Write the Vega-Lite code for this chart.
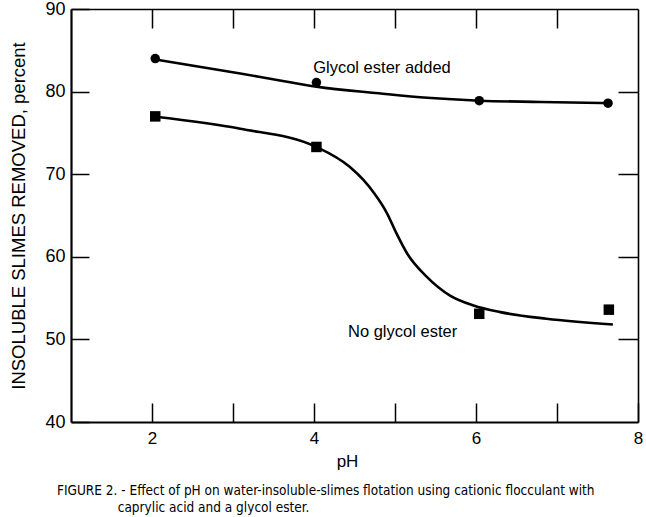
{
  "$schema": "https://vega.github.io/schema/vega-lite/v6.json",
  "autosize": "none",
  "width": 567,
  "height": 413,
  "padding": {"left": 71, "top": 9, "right": 8, "bottom": 95},
  "background": "white",
  "config": {
    "view": {"stroke": null},
    "axis": {"grid": false, "domainColor": "black", "tickColor": "black", "labelColor": "black", "titleColor": "black", "labelFont": "Liberation Sans", "titleFont": "Liberation Sans", "titleFontWeight": "normal"},
    "text": {"font": "Liberation Sans"}
  },
  "title": {
    "text": ["FIGURE 2. - Effect of pH on water-insoluble-slimes flotation using cationic flocculant with", "\u200b\u2003\u2003\u2003\u2003\u2003caprylic acid and a glycol ester."],
    "orient": "bottom",
    "anchor": "start",
    "frame": "group",
    "dx": -14,
    "offset": 15,
    "font": "DejaVu Sans Condensed",
    "fontSize": 13.5,
    "fontWeight": "normal",
    "color": "black",
    "lineHeight": 17
  },
  "datasets": {
    "curves": [
      {"series": "glycol", "pH": 2.04, "pct": 83.9},
      {"series": "glycol", "pH": 3.09, "pct": 82.2},
      {"series": "glycol", "pH": 3.58, "pct": 81.35},
      {"series": "glycol", "pH": 4.03, "pct": 80.6},
      {"series": "glycol", "pH": 4.8, "pct": 79.8},
      {"series": "glycol", "pH": 5.4, "pct": 79.25},
      {"series": "glycol", "pH": 6.05, "pct": 78.9},
      {"series": "glycol", "pH": 6.8, "pct": 78.75},
      {"series": "glycol", "pH": 7.64, "pct": 78.6},
      {"series": "none", "pH": 2.04, "pct": 76.95},
      {"series": "none", "pH": 3.09, "pct": 75.5},
      {"series": "none", "pH": 4.03, "pct": 73.3},
      {"series": "none", "pH": 4.44, "pct": 70.9},
      {"series": "none", "pH": 4.61, "pct": 69.3},
      {"series": "none", "pH": 4.75, "pct": 67.6},
      {"series": "none", "pH": 4.9, "pct": 65.3},
      {"series": "none", "pH": 5.02, "pct": 62.8},
      {"series": "none", "pH": 5.15, "pct": 60.4},
      {"series": "none", "pH": 5.39, "pct": 57.6},
      {"series": "none", "pH": 5.68, "pct": 55.3},
      {"series": "none", "pH": 5.97, "pct": 54.1},
      {"series": "none", "pH": 6.3, "pct": 53.3},
      {"series": "none", "pH": 6.87, "pct": 52.5},
      {"series": "none", "pH": 7.69, "pct": 51.8}
    ],
    "points": [
      {"series": "glycol", "pH": 2.04, "pct": 84.0},
      {"series": "glycol", "pH": 4.03, "pct": 81.1},
      {"series": "glycol", "pH": 6.04, "pct": 78.9},
      {"series": "glycol", "pH": 7.63, "pct": 78.6},
      {"series": "none", "pH": 2.04, "pct": 77.0},
      {"series": "none", "pH": 4.03, "pct": 73.3},
      {"series": "none", "pH": 6.04, "pct": 53.1},
      {"series": "none", "pH": 7.64, "pct": 53.6}
    ],
    "labels": [
      {"label": "Glycol ester added", "pH": 3.99, "pct": 82.25},
      {"label": "No glycol ester", "pH": 4.42, "pct": 50.3}
    ]
  },
  "resolve": {"axis": {"x": "independent", "y": "independent"}},
  "layer": [
    {
      "data": {"name": "curves"},
      "mark": {"type": "line", "interpolate": "monotone", "color": "black", "strokeWidth": 2.6},
      "encoding": {
        "x": {"field": "pH", "type": "quantitative", "scale": {"domain": [1, 8], "nice": false, "zero": false},
          "axis": {"orient": "bottom", "values": [2, 3, 4, 5, 6, 7, 8], "labelExpr": "datum.value % 2 == 0 ? datum.label : ''", "tickSize": -19, "tickWidth": 1.5, "domainWidth": 2.2, "labelFontSize": 17, "labelPadding": 27, "title": "pH", "titleFontSize": 17, "titlePadding": 7, "titleX": 276, "labelFlush": false}},
        "y": {"field": "pct", "type": "quantitative", "scale": {"domain": [40, 90], "nice": false, "zero": false},
          "axis": {"orient": "left", "values": [40, 50, 60, 70, 80, 90], "tickSize": -18, "tickWidth": 1.5, "domainWidth": 2.2, "labelFontSize": 18, "labelPadding": 24, "title": "INSOLUBLE SLIMES REMOVED, percent", "titleFontSize": 18.5, "titlePadding": 16, "labelFlush": false}},
        "detail": {"field": "series"}
      }
    },
    {
      "data": {"name": "points"},
      "transform": [{"filter": "datum.series == 'glycol'"}],
      "mark": {"type": "point", "shape": "circle", "filled": true, "color": "black", "opacity": 1, "size": 90},
      "encoding": {
        "x": {"field": "pH", "type": "quantitative", "scale": {"domain": [1, 8], "nice": false, "zero": false},
          "axis": {"orient": "top", "values": [2, 3, 4, 5, 6, 7], "labels": false, "tickSize": -19, "tickWidth": 1.5, "domainWidth": 1.6, "title": null}},
        "y": {"field": "pct", "type": "quantitative", "scale": {"domain": [40, 90], "nice": false, "zero": false},
          "axis": {"orient": "right", "values": [50, 60, 70, 80], "labels": false, "tickSize": -20, "tickWidth": 1.5, "domainWidth": 1.6, "title": null}}
      }
    },
    {
      "data": {"name": "points"},
      "transform": [{"filter": "datum.series == 'none'"}],
      "mark": {"type": "point", "shape": "square", "filled": true, "color": "black", "opacity": 1, "size": 110},
      "encoding": {
        "x": {"field": "pH", "type": "quantitative", "scale": {"domain": [1, 8], "nice": false, "zero": false}, "axis": null},
        "y": {"field": "pct", "type": "quantitative", "scale": {"domain": [40, 90], "nice": false, "zero": false}, "axis": null}
      }
    },
    {
      "data": {"name": "labels"},
      "mark": {"type": "text", "align": "left", "baseline": "alphabetic", "fontSize": 16.5, "color": "black"},
      "encoding": {
        "x": {"field": "pH", "type": "quantitative", "scale": {"domain": [1, 8], "nice": false, "zero": false}, "axis": null},
        "y": {"field": "pct", "type": "quantitative", "scale": {"domain": [40, 90], "nice": false, "zero": false}, "axis": null},
        "text": {"field": "label"}
      }
    }
  ]
}
